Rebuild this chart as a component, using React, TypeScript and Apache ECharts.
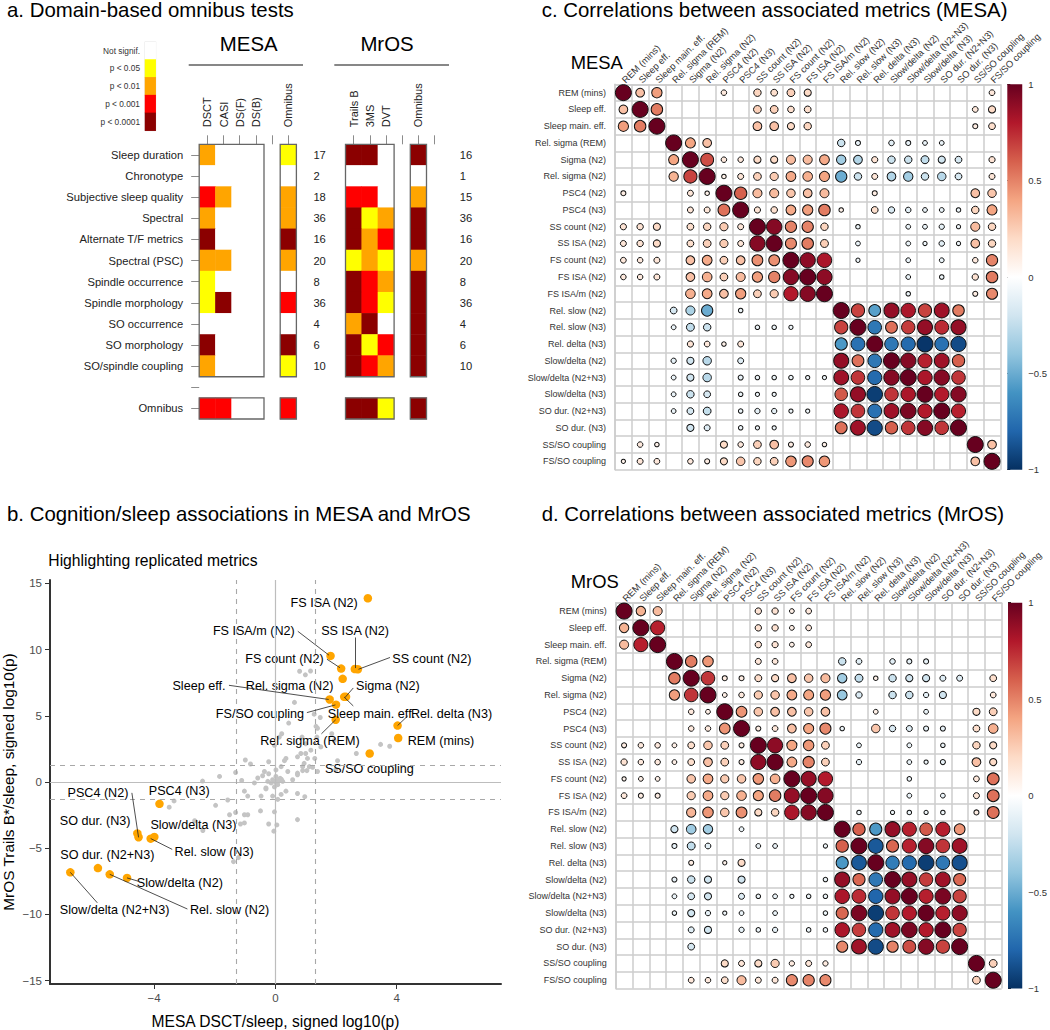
import React, { useEffect, useRef } from "react";
import * as echarts from "echarts";

const FONT = '"Liberation Sans", Arial, sans-serif';

// ---------- panel a ----------
const domains = ["Sleep duration", "Chronotype", "Subjective sleep quality", "Spectral", "Alternate T/F metrics", "Spectral (PSC)", "Spindle occurrence", "Spindle morphology", "SO occurrence", "SO morphology", "SO/spindle coupling", "", "Omnibus"];
const mesaTests = ["DSCT", "CASI", "DS(F)", "DS(B)", "", "Omnibus"];
const mrosTests = ["Trails B", "3MS", "DVT", "", "Omnibus", " "];
const mesaCounts = ["17", "2", "18", "36", "16", "20", "8", "36", "4", "6", "10", "", ""];
const mrosCounts = ["16", "1", "15", "36", "16", "20", "8", "36", "4", "6", "10", "", ""];
const pLevels = ["Not signif.", "p < 0.05", "p < 0.01", "p < 0.001", "p < 0.0001"];
const pColors = ["#FFFFFF", "#FFFF00", "#FFA500", "#FF0000", "#8B0000"];
// null = gap column between blocks
const mesaLevels = [
  [2, 0, 0, 0, null, 1],
  [0, 0, 0, 0, null, 0],
  [3, 2, 0, 0, null, 2],
  [2, 0, 0, 0, null, 2],
  [4, 0, 0, 0, null, 4],
  [2, 2, 0, 0, null, 2],
  [1, 0, 0, 0, null, 0],
  [1, 4, 0, 0, null, 3],
  [0, 0, 0, 0, null, 0],
  [4, 0, 0, 0, null, 4],
  [2, 0, 0, 0, null, 1],
  [null, null, null, null, null, null],
  [3, 3, 0, 0, null, 3],
];
const mrosLevels = [
  [4, 4, 0, null, 4, null],
  [0, 0, 0, null, 0, null],
  [3, 3, 0, null, 2, null],
  [4, 1, 2, null, 4, null],
  [4, 2, 3, null, 4, null],
  [1, 2, 1, null, 2, null],
  [4, 3, 2, null, 4, null],
  [4, 3, 1, null, 4, null],
  [2, 4, 0, null, 4, null],
  [4, 1, 3, null, 4, null],
  [4, 3, 2, null, 4, null],
  [null, null, null, null, null, null],
  [4, 4, 1, null, 4, null],
];

// ---------- panel b ----------
const otherMetrics = [
  [0.8, 8.36], [0.99, 8.09], [1.16, 8.38], [0.63, 6.01], [0.44, 4.45], [1.48, 4.87], [1.28, 5.12], [1.34, 4.2], [1.39, 4.06],
  [0.21, 3.64], [0.13, 3.39], [0.88, 3.39], [1.37, 3.39], [1.86, 3.64], [1.94, 3.14], [1.0, 2.89], [1.5, 2.65], [-0.03, 2.77],
  [3.47, 2.84], [3.77, 2.7], [2.67, 2.15], [1.17, 2.4], [0.84, 2.15], [1.0, 2.15], [0.73, 1.9], [1.06, 1.78], [0.35, 1.78],
  [0.3, 1.61], [1.3, 1.78], [2.05, 1.61], [-0.99, 1.66], [-0.82, 1.36], [-0.22, 1.53], [0.95, 1.41], [1.12, 1.16], [0.9, 1.16],
  [0.19, 1.16], [0.02, 0.91], [-0.36, 0.79], [-0.22, 0.62], [0.41, 0.79], [0.73, 0.67], [-1.31, 0.72], [1.39, 0.79], [1.99, 0.91],
  [-0.42, 0.47], [-1.84, 0.42], [-2.4, 0.07], [-1.11, 0.12], [-0.58, 0.3], [-0.69, -0.07], [-0.25, 0.05], [-0.09, 0.17], [0.02, 0.42],
  [0.13, 0.17], [0.24, 0.05], [0.08, -0.2], [-0.03, -0.37], [-0.14, -0.07], [-0.31, -0.45], [0.35, -0.69], [0.19, -0.94], [0.57, 0.17],
  [0.73, 0.54], [0.9, 0.86], [1.04, 0.86], [1.23, 1.11], [-0.31, -0.52], [-1.02, -0.69], [-0.91, -1.06], [-0.47, -1.06], [-0.09, -1.06],
  [0.08, -1.31], [0.73, -0.87], [0.97, -1.11], [-1.57, -1.36], [-1.97, -1.76], [-3.34, -1.43], [-3.5, -1.9], [-2.39, -3.66], [-2.66, -2.92],
  [-1.51, -2.47], [-1.31, -2.3], [-1.02, -2.47], [-0.91, -2.47], [-1.02, -3.09], [-1.15, -3.17], [-0.49, -2.18], [-0.03, -2.25], [0.73, -2.84],
  [-0.22, -3.17], [0.05, -3.24], [-0.05, -3.71], [-1.38, -6.01], [-1.22, -5.71], [0.1, 0.05], [0.16, 0.28], [0.05, 0.12], [0.2, 0.2], [0.0, 0.0],
];
const replicatedMetrics = [
  [3.05, 13.87], [1.82, 9.52], [2.17, 8.56], [2.62, 8.53], [2.72, 8.51], [2.22, 7.79], [2.27, 6.43], [2.33, 6.43], [1.79, 6.23], [2.0, 5.84],
  [1.99, 4.7], [4.03, 4.26], [4.05, 3.32], [3.11, 2.15], [-3.82, -1.65], [-4.55, -3.88], [-4.51, -4.17], [-3.99, -4.15], [-4.11, -4.28],
  [-6.76, -6.82], [-5.85, -6.5], [-5.46, -6.97], [-4.89, -7.24],
];
const repelLabels: [string, number, number][] = [
  ["FS ISA (N2)", 1.61, 13.48], ["FS ISA/m (N2)", -0.71, 11.4], ["SS ISA (N2)", 2.63, 11.4], ["FS count (N2)", 0.3, 9.32], ["SS count (N2)", 5.16, 9.32],
  ["Sleep eff.", -2.52, 7.25], ["Rel. sigma (N2)", 0.47, 7.25], ["Sigma (N2)", 3.71, 7.25], ["FS/SO coupling", -0.51, 5.17], ["Sleep main. eff.", 3.17, 5.17],
  ["Rel. delta (N3)", 5.81, 5.17], ["Rel. sigma (REM)", 1.14, 3.09], ["REM (mins)", 5.46, 3.09], ["SS/SO coupling", 3.1, 0.99], ["PSC4 (N2)", -5.85, -0.82],
  ["PSC4 (N3)", -3.17, -0.67], ["SO dur. (N3)", -5.94, -2.92], ["Slow/delta (N3)", -2.7, -3.21], ["Rel. slow (N3)", -2.02, -5.27], ["SO dur. (N2+N3)", -5.54, -5.49],
  ["Slow/delta (N2)", -3.15, -7.59], ["Slow/delta (N2+N3)", -5.3, -9.67], ["Rel. slow (N2)", -1.51, -9.67],
];
const leaders = [
  [0.74, 11.38, 1.77, 9.57], [1.7, 9.27, 2.13, 8.63], [2.63, 10.91, 2.63, 8.6], [3.78, 9.4, 2.74, 8.51], [-1.53, 7.3, 1.76, 6.23],
  [2.57, 7.1, 2.29, 6.36], [2.57, 5.74, 2.27, 6.41], [1.04, 5.24, 1.98, 5.82], [1.52, 3.64, 1.99, 4.7], [4.37, 5.0, 4.03, 4.26],
  [-4.73, -0.82, -4.51, -4.18], [-3.4, -5.09, -4.11, -4.27], [-4.52, -7.49, -4.89, -7.24], [-2.9, -9.59, -5.46, -6.97], [-5.87, -9.12, -6.76, -6.82],
];
const xTicks = [-4, 0, 4];
const yTicks = [-15, -10, -5, 0, 5, 10, 15];
const signifLine = 1.3;

// ---------- panels c, d ----------
const metrics = ["REM (mins)", "Sleep eff.", "Sleep main. eff.", "Rel. sigma (REM)", "Sigma (N2)", "Rel. sigma (N2)", "PSC4 (N2)", "PSC4 (N3)", "SS count (N2)", "SS ISA (N2)", "FS count (N2)", "FS ISA (N2)", "FS ISA/m (N2)", "Rel. slow (N2)", "Rel. slow (N3)", "Rel. delta (N3)", "Slow/delta (N2)", "Slow/delta (N2+N3)", "Slow/delta (N3)", "SO dur. (N2+N3)", "SO dur. (N3)", "SS/SO coupling", "FS/SO coupling"];
// correlations x 100; 0 = not shown
const mesaCorr = [
  [100, 30, 42, 0, 0, 0, 12, 0, 22, 18, 24, 20, 0, 0, 0, 0, 0, 0, 0, 0, 0, 0, 13],
  [30, 100, 52, 0, 0, 0, 0, 0, 24, 24, 17, 18, 0, 0, 0, 0, 0, 0, 0, 0, 0, 13, 20],
  [42, 52, 100, 0, 0, 0, 0, 0, 30, 30, 20, 22, 0, 0, 0, 0, 0, 0, 0, 0, 0, 10, 18],
  [0, 0, 0, 100, 40, 30, 0, 0, 0, 0, 0, 0, 0, -22, -10, 0, -12, -10, -9, -9, 0, 0, 0],
  [0, 0, 0, 40, 100, 65, 12, 12, 20, 20, 32, 32, 38, -35, -30, 15, -22, -22, -25, -20, -18, 0, 15],
  [0, 0, 0, 35, 68, 100, 8, 14, 24, 26, 38, 36, 40, -50, -22, 14, -30, -35, -22, -28, -18, 0, 14],
  [10, 0, 0, 0, 14, 8, 100, 60, 32, 32, 28, 30, 32, 0, 0, 10, 0, 0, 0, 0, 0, 30, 28],
  [0, 0, 0, 0, 14, 14, 55, 100, 15, 17, 38, 42, 52, 8, 0, 18, -16, -12, -9, -9, -8, 22, 40],
  [15, 16, 20, 0, 18, 22, 26, 14, 100, 92, 50, 50, 22, 0, -8, 0, 0, -9, -9, -11, -7, 32, 22],
  [14, 16, 20, 0, 18, 24, 26, 14, 92, 100, 48, 52, 25, 0, -9, 0, 0, -9, -7, -12, -7, 30, 22],
  [13, 12, 14, 0, 30, 38, 24, 30, 46, 46, 100, 90, 82, 0, -7, 0, 0, -9, 0, -9, 0, 12, 50],
  [12, 12, 14, 0, 30, 36, 24, 32, 42, 50, 92, 100, 90, 0, 0, 0, 0, -9, 0, -8, 0, 16, 52],
  [0, 0, 0, 0, 36, 38, 30, 42, 24, 26, 80, 92, 100, 0, 0, 0, 0, -8, 0, 0, 0, 10, 48],
  [0, 0, 0, -18, -32, -50, 0, -8, 0, 0, 0, 0, 0, 100, 68, -55, 88, 82, 68, 85, 52, 0, 0],
  [0, 0, 0, -9, -25, -22, 0, 0, -8, -8, -7, 0, 0, 68, 100, -72, 55, 70, 88, 75, 88, 0, 0],
  [0, 0, 0, 0, 15, 13, 8, 14, 0, 0, 0, 0, 0, -58, -75, 100, -72, -78, -98, -75, -90, 0, 0],
  [0, 0, 0, -11, -20, -28, 0, -14, 0, 0, 0, 0, 0, 88, 55, -72, 100, 92, 78, 85, 60, 0, 0],
  [0, 0, 0, -9, -20, -28, 0, -10, -8, -8, -8, -7, -7, 85, 72, -78, 92, 100, 82, 92, 72, 0, 0],
  [0, 0, 0, -9, -22, -18, 0, -8, -7, -7, 0, 0, 0, 62, 88, -95, 72, 82, 100, 80, 92, 0, 0],
  [0, 0, 0, -9, -18, -24, 0, -8, -11, -11, -7, -7, 0, 82, 72, -75, 85, 95, 80, 100, 78, 0, 0],
  [0, 0, 0, 0, -20, -14, 0, -8, -7, -7, 0, 0, 0, 55, 85, -90, 60, 72, 92, 72, 100, 0, 0],
  [0, 12, 8, 0, 0, 0, 20, 12, 24, 30, 10, 12, 8, 0, 0, 0, 0, 0, 0, 0, 0, 100, 30],
  [7, 14, 13, 0, 12, 10, 20, 28, 22, 24, 44, 48, 44, 0, 0, 0, 0, 0, 0, 0, 0, 30, 100],
];
const mrosCorr = [
  [100, 35, 32, 0, 0, 0, 0, 0, 16, 16, 9, 13, 0, 0, 0, 0, 0, 0, 0, 0, 0, 0, 0],
  [35, 100, 78, 0, 0, 0, 0, 0, 16, 16, 9, 13, 0, 0, 0, 0, 0, 0, 0, 0, 0, 0, 0],
  [32, 78, 100, 0, 0, 0, 0, 0, 16, 15, 9, 13, 0, 0, 0, 0, 0, 0, 0, 0, 0, 0, 0],
  [0, 0, 0, 100, 52, 44, 0, 0, 14, 13, 0, 0, 0, -22, -13, 0, -12, -10, -10, 0, 0, 0, 0],
  [0, 0, 0, 52, 100, 72, 10, 10, 19, 20, 30, 28, 32, -35, -25, 8, -22, -20, -20, -14, -14, 0, 18],
  [0, 0, 0, 42, 72, 100, 9, 12, 26, 28, 38, 40, 42, -38, -16, 0, -22, -22, -11, -20, 0, 0, 13],
  [0, 0, 0, 0, 12, 9, 100, 45, 28, 30, 30, 28, 30, 0, 0, 9, 0, 0, -9, 0, 0, 20, 24],
  [0, 0, 0, 0, 12, 12, 45, 100, 10, 13, 30, 40, 48, -8, 0, 28, -16, -14, -10, -10, 0, 18, 36],
  [10, 12, 12, 9, 18, 28, 24, 10, 100, 90, 40, 44, 24, 0, -9, 0, 0, -9, 0, -8, 0, 22, 20],
  [16, 12, 12, 9, 18, 30, 24, 10, 90, 100, 38, 50, 24, 0, -11, 0, 0, -9, -7, -10, 0, 30, 20],
  [7, 9, 9, 0, 28, 38, 26, 28, 44, 36, 100, 88, 80, 0, 0, 0, 0, -8, 0, 0, 0, 13, 55],
  [13, 10, 10, 0, 26, 38, 26, 36, 40, 52, 88, 100, 92, 0, 0, 0, 0, -9, 0, -9, 0, 14, 55],
  [0, 0, 0, 0, 34, 44, 28, 46, 20, 22, 82, 92, 100, 0, -8, 0, -7, -8, -7, -8, 0, 10, 55],
  [0, 0, 0, -20, -36, -35, 0, -9, 0, 0, 0, 0, 0, 100, 60, -58, 88, 78, 62, 78, 45, 0, 0],
  [0, 0, 0, -10, -25, -13, 0, 0, -9, -9, 0, 0, -7, 60, 100, -85, 58, 78, 92, 72, 85, 0, 0],
  [0, 0, 0, 0, 10, 0, 7, 20, 0, 0, 0, 0, 0, -58, -85, 100, -70, -78, -95, -72, -88, 0, 0],
  [0, 0, 0, -10, -22, -20, 0, -20, 0, 0, 0, 0, -8, 88, 58, -72, 100, 88, 70, 85, 58, 0, 0],
  [0, 0, 0, -9, -18, -20, 0, -14, -8, -9, -7, -8, -8, 82, 75, -80, 88, 100, 78, 95, 68, 0, 0],
  [0, 0, 0, -8, -20, -11, -7, -9, 0, -9, 0, 0, -8, 58, 95, -95, 72, 80, 100, 78, 90, 0, 0],
  [0, 0, 0, 0, -14, -20, 0, -11, -8, -11, 0, -8, -8, 82, 70, -78, 85, 95, 80, 100, 68, 0, 0],
  [0, 0, 0, 0, -18, 0, 0, 0, 0, 0, 0, 0, 0, 48, 85, -90, 50, 65, 92, 68, 100, 0, 0],
  [0, 0, 0, 0, 0, 0, 20, 14, 20, 26, 11, 14, 11, 0, 0, 0, 0, 0, 0, 0, 0, 100, 24],
  [0, 0, 0, 0, 13, 12, 18, 32, 14, 14, 48, 50, 48, 0, 0, 0, 0, 0, 0, 0, 0, 24, 100],
];
const corrColors = ["#053061", "#2166AC", "#4393C3", "#92C5DE", "#D1E5F0", "#FFFFFF", "#FDDBC7", "#F4A582", "#D6604D", "#B2182B", "#67001F"];

// ---------- layout ----------
const A = { top: 144.3, rowH: 21.13, colW: 16.2, mesaLeft: 199.2, mrosLeft: 345.5 };
const C = { left: 615, top: 84.3, size: 385.4 };
const D = { left: 615.7, top: 602.7, size: 385.9 };

function heatData(levels: (number | null)[][]) {
  const out: number[][] = [];
  levels.forEach((row, y) => row.forEach((v, x) => { if (v !== null) out.push([x, y, v]); }));
  return out;
}
function corrData(matrix: number[][]) {
  const out: number[][] = [];
  matrix.forEach((row, y) => row.forEach((v, x) => { if (v !== 0) out.push([x, y, v / 100]); }));
  return out;
}
function frame(x: number, y: number, width: number, height: number) {
  return { type: "rect", z: 20, silent: true, shape: { x, y, width, height }, style: { fill: "none", stroke: "#666", lineWidth: 1.3 } };
}
function text(t: string, x: number, y: number, size: number, extra: any = {}) {
  return { type: "text", z: 20, silent: true, style: { text: t, x, y, font: `${size}px ${FONT}`, fill: "#000", textVerticalAlign: "middle", ...extra } };
}

function buildOption() {
  const grids: any[] = [];
  const xAxes: any[] = [];
  const yAxes: any[] = [];
  const series: any[] = [];
  const heatSeries: number[] = [];
  const corrSeries: number[] = [];

  // legend of panel a
  grids.push({ left: 145, top: 41.7, width: 10.7, height: 89, show: true, borderColor: "#dcdcdc", borderWidth: 1, containLabel: false });
  xAxes.push({ gridIndex: 0, type: "category", data: [""], show: false });
  yAxes.push({ gridIndex: 0, type: "category", inverse: true, data: pLevels, axisLine: { show: false }, axisTick: { show: false }, axisLabel: { interval: 0, fontFamily: FONT, fontSize: 8.3, color: "#333", margin: 5 } });
  heatSeries.push(series.length);
  series.push({ type: "heatmap", xAxisIndex: 0, yAxisIndex: 0, data: pLevels.map((_, i) => [0, i, i]) });

  // heat blocks of panel a
  const blocks = [
    { left: A.mesaLeft, tests: mesaTests, levels: mesaLevels, counts: mesaCounts, labels: true, countGap: 17 },
    { left: A.mrosLeft, tests: mrosTests, levels: mrosLevels, counts: mrosCounts, labels: false, countGap: 17 },
  ];
  blocks.forEach((b) => {
    const g = grids.length;
    grids.push({ left: b.left, top: A.top, width: A.colW * 6, height: A.rowH * domains.length });
    xAxes.push({
      gridIndex: g, type: "category", position: "top", data: b.tests,
      axisLine: { show: false },
      axisTick: { show: true, alignWithLabel: true, interval: 0, length: 9, lineStyle: { color: "#8c8c8c", width: 1 } },
      axisLabel: { interval: 0, rotate: -90, margin: 17, fontFamily: FONT, fontSize: 11, color: "#222" },
    });
    const yi = yAxes.length;
    yAxes.push({
      gridIndex: g, type: "category", inverse: true, data: domains,
      axisLine: { show: false },
      axisTick: { show: b.labels, alignWithLabel: true, interval: 0, length: 8, lineStyle: { color: "#8c8c8c", width: 1 } },
      axisLabel: { show: b.labels, interval: 0, margin: 16, fontFamily: FONT, fontSize: 11.2, color: "#222" },
    });
    yAxes.push({
      gridIndex: g, type: "category", inverse: true, position: "right", data: b.counts,
      axisLine: { show: false }, axisTick: { show: false },
      axisLabel: { interval: 0, margin: b.countGap, fontFamily: FONT, fontSize: 11.2, color: "#222" },
    });
    heatSeries.push(series.length);
    series.push({ type: "heatmap", xAxisIndex: g, yAxisIndex: yi, data: heatData(b.levels) });
  });

  // panel b
  const sg = grids.length;
  grids.push({ left: 48.3, top: 580, width: 452.7, height: 411 });
  const signedName = (v: number) => String(v).replace("-", "\u2212");
  xAxes.push({
    gridIndex: sg, type: "value", min: -7.43, max: 7.44, splitLine: { show: false }, axisLine: { onZero: false, lineStyle: { color: "#333", width: 2 } },
    axisTick: { customValues: xTicks, length: 5, lineStyle: { color: "#333" } },
    axisLabel: { customValues: xTicks, formatter: signedName, fontFamily: FONT, fontSize: 11.5, color: "#4d4d4d", margin: 8 },
    name: "MESA DSCT/sleep, signed log10(p)", nameLocation: "middle", nameGap: 29, nameTextStyle: { fontFamily: FONT, fontSize: 15.6, color: "#000" },
  });
  yAxes.push({
    gridIndex: sg, type: "value", min: -15.25, max: 15.25, splitLine: { show: false }, axisLine: { onZero: false, lineStyle: { color: "#333", width: 2 } },
    axisTick: { customValues: yTicks, length: 5, lineStyle: { color: "#333" } },
    axisLabel: { customValues: yTicks, formatter: signedName, fontFamily: FONT, fontSize: 11.5, color: "#4d4d4d", margin: 8 },
    name: "MrOS Trails B*/sleep, signed log10(p)", nameLocation: "middle", nameGap: 34, nameTextStyle: { fontFamily: FONT, fontSize: 15.4, color: "#000" },
  });
  const refLines = {
    silent: true, symbol: "none", label: { show: false },
    data: [
      { xAxis: 0, lineStyle: { color: "#bdbdbd", width: 1.2, type: "solid" } },
      { yAxis: 0, lineStyle: { color: "#bdbdbd", width: 1.2, type: "solid" } },
      { xAxis: signifLine }, { xAxis: -signifLine }, { yAxis: signifLine }, { yAxis: -signifLine },
    ],
    lineStyle: { color: "#a8a8a8", width: 1.1, type: [5, 5] },
  };
  series.push({ type: "scatter", z: 2, xAxisIndex: sg, yAxisIndex: yAxes.length - 1, data: otherMetrics, symbolSize: 5, itemStyle: { color: "#c4c4c4", opacity: 1 }, markLine: refLines });
  series.push({ type: "scatter", z: 3, xAxisIndex: sg, yAxisIndex: yAxes.length - 1, data: replicatedMetrics, symbolSize: 8.5, itemStyle: { color: "#FFA500", opacity: 1 } });
  series.push({
    type: "scatter", z: 4, xAxisIndex: sg, yAxisIndex: yAxes.length - 1, symbolSize: 1, itemStyle: { color: "transparent", opacity: 1 },
    data: repelLabels.map(([name, x, y]) => ({ name, value: [x, y] })),
    label: { show: true, position: [0.5, 0.5], align: "center", verticalAlign: "middle", formatter: (p: any) => p.name, fontFamily: FONT, fontSize: 12.6, color: "#000", opacity: 1, textBorderWidth: 0 },
    markLine: {
      silent: true, symbol: "none", label: { show: false }, lineStyle: { color: "#222", width: 0.8, type: "solid", opacity: 1 },
      data: leaders.map(([a, b, c, d]) => [{ coord: [a, b] }, { coord: [c, d] }]),
    },
  });

  // panels c, d
  const corrPanels = [
    { layout: C, matrix: mesaCorr },
    { layout: D, matrix: mrosCorr },
  ];
  corrPanels.forEach(({ layout, matrix }) => {
    const g = grids.length;
    grids.push({ left: layout.left, top: layout.top, width: layout.size, height: layout.size });
    const split = { show: true, interval: 0, lineStyle: { color: "#cccccc", width: 1.5 } };
    xAxes.push({
      gridIndex: g, type: "category", position: "top", data: metrics, axisLine: { show: true, onZero: false, lineStyle: { color: "#cccccc", width: 1.5 } }, axisTick: { show: false }, splitLine: split,
      axisLabel: { interval: 0, rotate: -45, margin: 3, fontFamily: FONT, fontSize: 9.4, color: "#333" },
    });
    const yi = yAxes.length;
    yAxes.push({
      gridIndex: g, type: "category", inverse: true, data: metrics, axisLine: { show: true, onZero: false, lineStyle: { color: "#cccccc", width: 1.5 } }, axisTick: { show: false }, splitLine: split,
      axisLabel: { interval: 0, margin: 9, fontFamily: FONT, fontSize: 9, color: "#333" },
    });
    corrSeries.push(series.length);
    series.push({
      type: "scatter", z: 3, xAxisIndex: g, yAxisIndex: yi, data: corrData(matrix),
      symbolSize: (v: number[]) => 16 * Math.sqrt(Math.abs(v[2])),
      itemStyle: { borderColor: "#111", borderWidth: 1, opacity: 1 },
    });
    // colour bar
    const cb = grids.length;
    grids.push({ left: layout.left + 392.3, top: layout.top, width: 16, height: layout.size });
    xAxes.push({ gridIndex: cb, type: "value", min: 0, max: 1, show: false });
    const cyi = yAxes.length;
    yAxes.push({
      gridIndex: cb, type: "value", position: "right", min: -1, max: 1, interval: 0.5, splitLine: { show: false },
      axisLine: { show: false }, axisTick: { show: true, length: 3, lineStyle: { color: "#222" } },
      axisLabel: { margin: 6, fontFamily: FONT, fontSize: 9.5, color: "#333", formatter: (v: number) => String(v).replace("-", "\u2212") },
    });
    series.push({
      type: "custom", xAxisIndex: cb, yAxisIndex: cyi, silent: true, data: [[0, 1, -1, 1]],
      renderItem: (_: any, api: any) => {
        const p0 = api.coord([api.value(0), api.value(3)]);
        const p1 = api.coord([api.value(1), api.value(2)]);
        return {
          type: "rect", shape: { x: p0[0], y: p0[1], width: p1[0] - p0[0], height: p1[1] - p0[1] },
          style: {
            fill: new echarts.graphic.LinearGradient(0, 1, 0, 0, corrColors.map((color, i) => ({ offset: i / (corrColors.length - 1), color }))),
          },
        };
      },
    });
  });

  const aBottomFrameTop = A.top + A.rowH * 12;
  const mainH = A.rowH * 11;
  const elements: any[] = [
    text("a. Domain-based omnibus tests", 7, 9.5, 20.4),
    text("b. Cognition/sleep associations in MESA and MrOS", 7, 514, 20.4),
    text("c. Correlations between associated metrics (MESA)", 541.7, 9.5, 20.4),
    text("d. Correlations between associated metrics (MrOS)", 541.7, 514, 20.4),
    text("Highlighting replicated metrics", 48.3, 560, 15.7),
    text("MESA", 248.7, 44, 20.4, { textAlign: "center" }),
    text("MrOS", 387, 44, 20.4, { textAlign: "center" }),
    text("MESA", 570.7, 62, 18.4),
    text("MrOS", 570.7, 581, 18.4),
    { type: "line", z: 20, silent: true, shape: { x1: 188.7, y1: 65, x2: 303, y2: 65 }, style: { stroke: "#111", lineWidth: 1.2 } },
    { type: "line", z: 20, silent: true, shape: { x1: 334.3, y1: 65, x2: 449, y2: 65 }, style: { stroke: "#111", lineWidth: 1.2 } },
  ];
  [A.top, aBottomFrameTop].forEach((y, i) => {
    const h = i === 0 ? mainH : A.rowH;
    elements.push(frame(A.mesaLeft, y, A.colW * 4, h));
    elements.push(frame(A.mesaLeft + A.colW * 5, y, A.colW, h));
    elements.push(frame(A.mrosLeft, y, A.colW * 3, h));
    elements.push(frame(A.mrosLeft + A.colW * 4, y, A.colW, h));
  });

  return {
    animation: false,
    backgroundColor: "#fff",
    textStyle: { fontFamily: FONT },
    grid: grids,
    xAxis: xAxes,
    yAxis: yAxes,
    series,
    visualMap: [
      {
        type: "piecewise", show: false, seriesIndex: heatSeries, dimension: 2,
        pieces: pColors.map((color, value) => ({ value, color })),
      },
      {
        type: "continuous", show: false, seriesIndex: corrSeries, dimension: 2, min: -1, max: 1,
        inRange: { color: corrColors },
      },
    ],
    graphic: { elements },
  };
}

export default function App() {
  const ref = useRef<HTMLDivElement>(null);
  useEffect(() => {
    const chart = echarts.init(ref.current!, null, { renderer: "svg" });
    chart.setOption(buildOption() as any);
    return () => chart.dispose();
  }, []);
  return <div ref={ref} style={{ position: "fixed", left: 0, top: 0, width: 1050, height: 1030, background: "#fff" }} />;
}
